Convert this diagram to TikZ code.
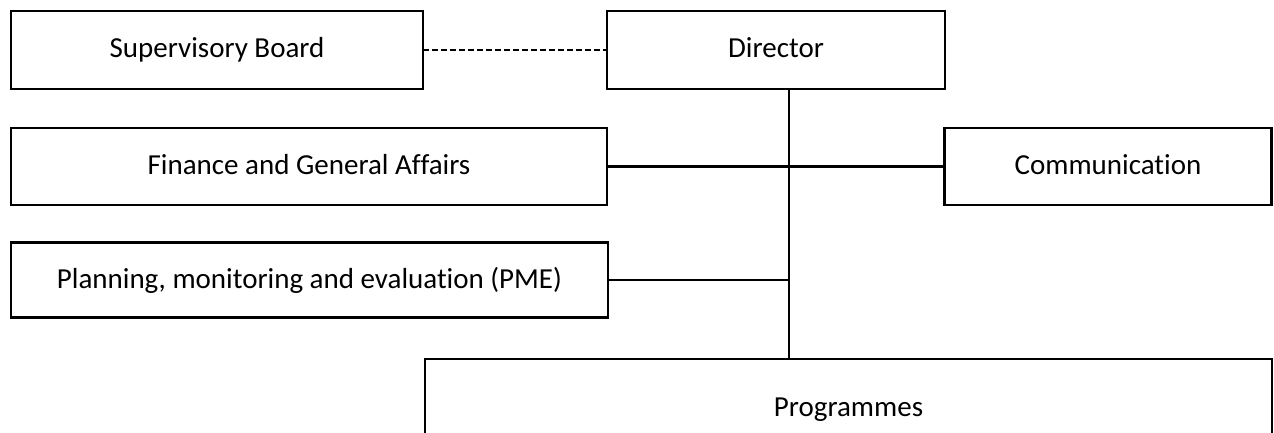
\documentclass[tikz,border=0pt]{standalone}
\usepackage{fontspec}
\setmainfont{Carlito}[Ligatures={NoCommon}]
\begin{document}
\begin{tikzpicture}[x=1pt,y=-1pt,
  box/.style={draw=black,line width=2.4pt,inner sep=0pt,outer sep=0pt,text height=22pt,text depth=6pt,font=\fontsize{29}{34}\selectfont},
  conn/.style={line width=2.4pt,draw=black},
  dashconn/.style={line width=2.4pt,draw=black,dash pattern=on 6pt off 3pt}]
\useasboundingbox[fill=white] (0,0) rectangle (1274,433);
\node[box,minimum width=412pt,minimum height=78pt] (sb) at (217,50) {Supervisory Board};
\node[box,minimum width=338pt,minimum height=78pt] (dir) at (776,50) {Director};
\node[box,minimum width=596pt,minimum height=77pt] (fin) at (309,166.5) {Finance and General Affairs};
\node[box,minimum width=327pt,minimum height=77pt] (com) at (1108,166.5) {Communication};
\node[box,minimum width=597pt,minimum height=75pt] (pme) at (309.5,280) {Planning, monitoring and evaluation (PME)};
\node[box,draw=none,minimum width=847pt,minimum height=98pt] (prog) at (848.5,408) {Programmes};
\draw[conn] (prog.west |- 0,434) -- (prog.north west) -- (prog.north east) -- (prog.east |- 0,434);
\coordinate (sp) at (789,200);
\draw[dashconn] (sb.east) -- (dir.west);
\draw[conn] (sp |- dir.south) -- (sp |- prog.north);
\draw[conn] (fin.east) -- (com.west);
\draw[conn] (pme.east) -- (pme.east -| sp);
\end{tikzpicture}
\end{document}
